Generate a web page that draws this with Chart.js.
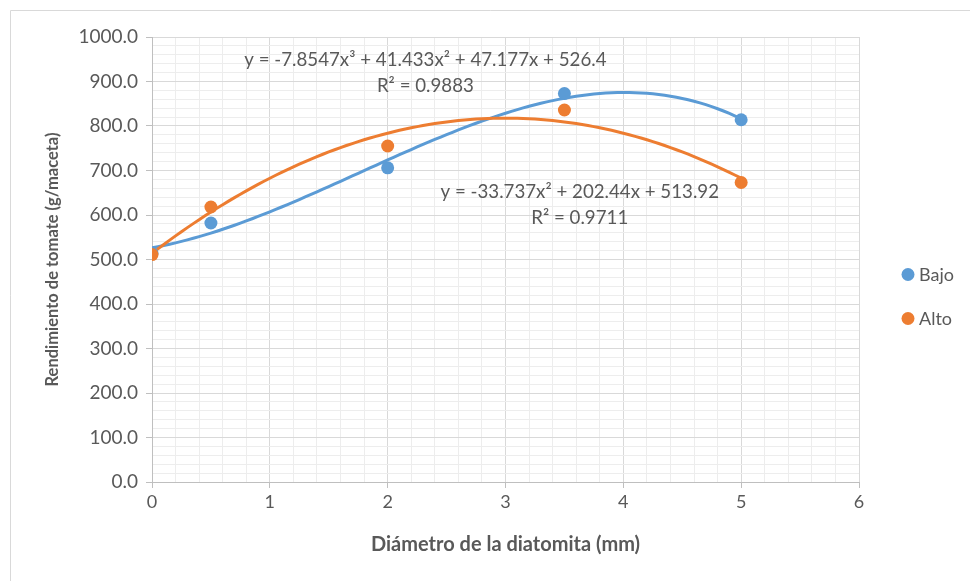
<!DOCTYPE html>
<html>
<head>
<meta charset="utf-8">
<script src="https://cdn.jsdelivr.net/npm/chart.js@4.4.0/dist/chart.umd.min.js"></script>
<style>
html, body { margin: 0; padding: 0; background: #fff; }
#wrap { width: 970px; height: 581px; position: relative; }
</style>
</head>
<body>
<div id="wrap"><canvas id="myChart"></canvas></div>
<script>
// datos
const diametros = [0, 0.5, 2, 3.5, 5];
const bajo = [514, 582, 706, 873, 814];
const alto = [511, 618, 755, 836, 673];

// coeficientes de las lineas de tendencia (c0 + c1*x + c2*x^2 + c3*x^3)
const coefBajo = [526.4, 47.177, 41.433, -7.8547];
const coefAlto = [513.92, 202.44, -33.737];
const ecuacionBajo = ['y = -7.8547x³ + 41.433x² + 47.177x + 526.4', 'R² = 0.9883'];
const ecuacionAlto = ['y = -33.737x² + 202.44x + 513.92', 'R² = 0.9711'];
const posEcuacionBajo = [2.32, 948];
const posEcuacionAlto = [3.63, 652];

const xTicks = [0, 1, 2, 3, 4, 5, 6];
const yTicks = [0, 100, 200, 300, 400, 500, 600, 700, 800, 900, 1000];

const azul = '#5B9BD5';
const naranja = '#ED7D31';
const gris = '#595959';
const fuente = 'Lato, "Open Sans", sans-serif';

function polinomio(coef, x) {
    return coef.reduce((s, c, i) => s + c * Math.pow(x, i), 0);
}

function tendencia(coef) {
    const pts = [];
    for (let i = 0; i <= 100; i++) {
        const x = i * 0.05;
        pts.push({ x: x, y: polinomio(coef, x) });
    }
    return pts;
}

function esMayor(v, lista) {
    return lista.some(t => Math.abs(t - v) < 1e-6);
}

const puntosBajo = diametros.map((d, i) => ({ x: d, y: bajo[i] }));
const puntosAlto = diametros.map((d, i) => ({ x: d, y: alto[i] }));

// borde, ecuaciones y leyenda
const extras = {
    id: 'extras',
    beforeDraw(chart) {
        const ctx = chart.ctx;
        ctx.save();
        ctx.strokeStyle = '#d9d9d9';
        ctx.lineWidth = 1;
        ctx.beginPath();
        ctx.moveTo(10.5, chart.height);
        ctx.lineTo(10.5, 10.5);
        ctx.lineTo(chart.width, 10.5);
        ctx.stroke();
        ctx.restore();
    },
    afterDraw(chart) {
        const ctx = chart.ctx;
        const sx = chart.scales.x, sy = chart.scales.y;
        ctx.save();
        ctx.fillStyle = gris;
        ctx.font = '18.7px ' + fuente;
        ctx.textAlign = 'center';
        ctx.textBaseline = 'middle';
        [[ecuacionBajo, posEcuacionBajo], [ecuacionAlto, posEcuacionAlto]].forEach(([txt, pos]) => {
            const px = sx.getPixelForValue(pos[0]);
            const py = sy.getPixelForValue(pos[1]);
            ctx.fillText(txt[0], px, py);
            ctx.fillText(txt[1], px, py + 26);
        });

        // leyenda
        const items = [['Bajo', azul], ['Alto', naranja]];
        const lx = chart.chartArea.right + 49;
        const ly = chart.height / 2 - 16;
        ctx.font = '18px ' + fuente;
        ctx.textAlign = 'left';
        items.forEach(([nombre, color], i) => {
            const y = ly + i * 44;
            ctx.fillStyle = color;
            ctx.beginPath();
            ctx.arc(lx, y, 6.5, 0, Math.PI * 2);
            ctx.fill();
            ctx.fillStyle = gris;
            ctx.fillText(nombre, lx + 11, y + 1);
        });
        ctx.restore();
    }
};

const ctx = document.getElementById('myChart').getContext('2d');
const myChart = new Chart(ctx, {
    type: 'scatter',
    plugins: [extras],
    data: {
        datasets: [
            { label: 'Bajo', data: puntosBajo, backgroundColor: azul, borderColor: azul, pointRadius: 6.5, pointBorderWidth: 0, order: 1 },
            { label: 'Alto', data: puntosAlto, backgroundColor: naranja, borderColor: naranja, pointRadius: 6.5, pointBorderWidth: 0, order: 0 },
            { label: 'Tendencia Bajo', data: tendencia(coefBajo), showLine: true, borderColor: azul, borderWidth: 3, pointRadius: 0, order: 3 },
            { label: 'Tendencia Alto', data: tendencia(coefAlto), showLine: true, borderColor: naranja, borderWidth: 3, pointRadius: 0, order: 2 }
        ]
    },
    options: {
        responsive: true,
        maintainAspectRatio: false,
        animation: false,
        layout: { padding: { left: 11, top: 37, right: 111, bottom: 0 } },
        plugins: {
            legend: { display: false },
            tooltip: { enabled: false }
        },
        scales: {
            x: {
                type: 'linear',
                min: 0, max: 6,
                afterFit: s => { s.height = 99; },
                border: { color: '#bfbfbf' },
                grid: {
                    color: c => esMayor(c.tick.value, xTicks) ? '#d9d9d9' : '#ededed',
                    tickColor: c => esMayor(c.tick.value, xTicks) ? '#bfbfbf' : 'rgba(0,0,0,0)',
                    tickLength: 6
                },
                ticks: {
                    stepSize: 0.2,
                    maxTicksLimit: 100,
                    autoSkip: false,
                    maxRotation: 0,
                    padding: 3,
                    color: gris,
                    font: { family: fuente, size: 18 },
                    callback: v => esMayor(v, xTicks) ? String(Math.round(v)) : ''
                },
                title: {
                    display: true,
                    text: 'Diámetro de la diatomita (mm)',
                    color: gris,
                    font: { family: fuente, size: 20, weight: 'bold' },
                    padding: { top: 0, bottom: 24 }
                }
            },
            y: {
                min: 0, max: 1000,
                afterFit: s => { s.width = 141; },
                border: { color: '#bfbfbf' },
                grid: {
                    color: c => esMayor(c.tick.value, yTicks) ? '#d9d9d9' : '#ededed',
                    tickColor: c => esMayor(c.tick.value, yTicks) ? '#bfbfbf' : 'rgba(0,0,0,0)',
                    tickLength: 6
                },
                ticks: {
                    stepSize: 20,
                    maxTicksLimit: 100,
                    autoSkip: false,
                    padding: 8,
                    color: gris,
                    font: { family: fuente, size: 19 },
                    callback: v => esMayor(v, yTicks) ? v.toFixed(1) : ''
                },
                title: {
                    display: true,
                    text: 'Rendimiento de tomate (g/maceta)',
                    color: gris,
                    font: { family: fuente, size: 16.5, weight: 'bold' },
                    padding: { top: 32, bottom: 0 }
                }
            }
        }
    }
});
</script>
</body>
</html>
